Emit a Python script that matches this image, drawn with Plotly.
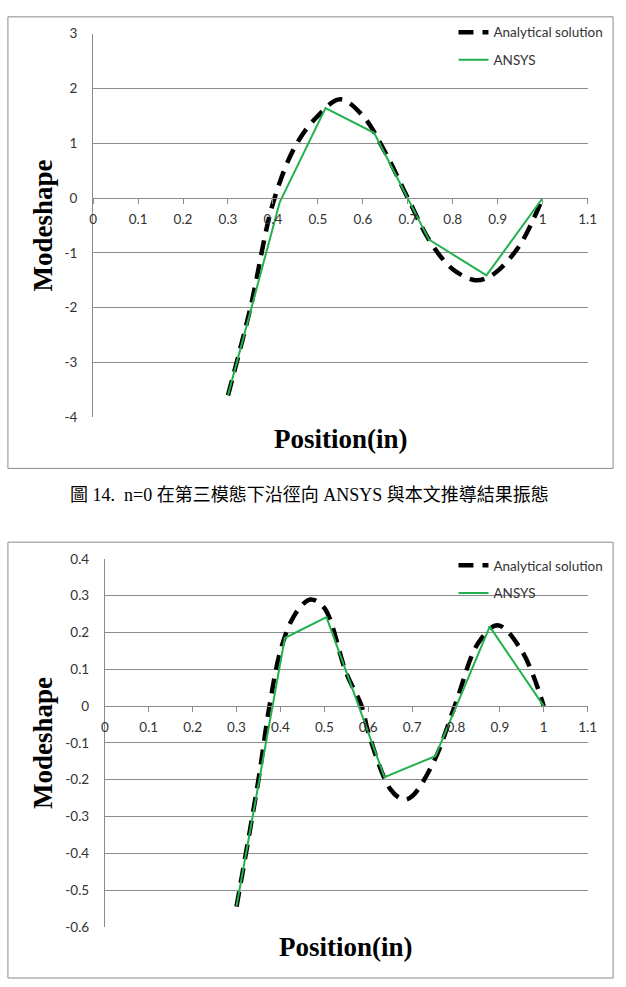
import plotly.graph_objects as go

W, H = 626, 987

# ---------------- data ----------------
x_ticks = [0, 0.1, 0.2, 0.3, 0.4, 0.5, 0.6, 0.7, 0.8, 0.9, 1.0, 1.1]
x_ticklabels = ["0", "0.1", "0.2", "0.3", "0.4", "0.5", "0.6", "0.7", "0.8", "0.9", "1", "1.1"]

c1_y_ticks = [-4, -3, -2, -1, 0, 1, 2, 3]
c1_y_ticklabels = ["-4", "-3", "-2", "-1", "0", "1", "2", "3"]
c2_y_ticks = [-0.6, -0.5, -0.4, -0.3, -0.2, -0.1, 0, 0.1, 0.2, 0.3, 0.4]
c2_y_ticklabels = ["-0.6", "-0.5", "-0.4", "-0.3", "-0.2", "-0.1", "0", "0.1", "0.2", "0.3", "0.4"]

# chart 1 (n=0, third mode)
c1_anal_x = [0.30, 0.35, 0.40, 0.45, 0.50, 0.55, 0.60, 0.65, 0.70, 0.75, 0.80, 0.85, 0.875, 0.90, 0.95, 1.00]
c1_anal_y = [-3.6, -2.0, -0.1, 0.95, 1.5, 1.8, 1.5, 0.83, 0.0, -0.8, -1.3, -1.5, -1.46, -1.33, -0.85, 0.0]
c1_ansys_x = [0.30, 0.415, 0.517, 0.625, 0.747, 0.875, 1.00]
c1_ansys_y = [-3.6, -0.08, 1.64, 1.19, -0.76, -1.41, 0.0]

# chart 2
c2_anal_x = [0.30, 0.35, 0.375, 0.40, 0.425, 0.45, 0.47, 0.50, 0.55, 0.585, 0.60, 0.65, 0.68, 0.70, 0.75, 0.80, 0.85, 0.895, 0.95, 1.00]
c2_anal_y = [-0.545, -0.2, 0.0, 0.15, 0.232, 0.276, 0.29, 0.267, 0.09, 0.0, -0.07, -0.225, -0.254, -0.245, -0.15, 0.01, 0.17, 0.22, 0.15, 0.0]
c2_ansys_x = [0.30, 0.41, 0.505, 0.637, 0.753, 0.877, 1.00]
c2_ansys_y = [-0.544, 0.185, 0.242, -0.193, -0.136, 0.216, 0.0]

series_names = ["Analytical solution", "ANSYS"]
caption = "圖 14.  n=0 在第三模態下沿徑向 ANSYS 與本文推導結果振態"
x_title = "Position(in)"
y_title = "Modeshape"

# ---------------- styles ----------------
GRID = "#8c8c8c"
GREEN = "#21b24f"
TICKFONT = dict(family="Lato, 'Open Sans', sans-serif", size=13.5, color="#333333")
TITLEFONT = dict(family="'Liberation Serif', 'Times New Roman', serif", size=27, color="black", weight="bold")


def px_x(p):
    return p / W


def px_y(p):
    return 1 - p / H


# plot area geometry (pixels)
c1_left, c1_right, c1_top, c1_bot = 91, 596, 26, 416
c2_left, c2_right, c2_top, c2_bot = 103, 596, 560, 934

c1_range = [c1_y_ticks[0], c1_y_ticks[-1]]
c2_range = [c2_y_ticks[0], c2_y_ticks[-1]]

c1_dom_y = [px_y(c1_bot), px_y(c1_top)]
c2_dom_y = [px_y(c2_bot), px_y(c2_top)]


def zero_pos(dom, rng):
    return dom[0] + (0 - rng[0]) / (rng[1] - rng[0]) * (dom[1] - dom[0])


fig = go.Figure()

fig.add_trace(go.Scatter(x=c1_anal_x, y=c1_anal_y, mode="lines", name=series_names[0],
                         line=dict(color="black", width=4.5, dash="15px,9px", shape="spline", smoothing=1.0),
                         xaxis="x", yaxis="y", legend="legend", legendgroup="a1"))
fig.add_trace(go.Scatter(x=c1_ansys_x, y=c1_ansys_y, mode="lines", name=series_names[1],
                         line=dict(color=GREEN, width=2),
                         xaxis="x", yaxis="y", legend="legend", legendgroup="b1"))
fig.add_trace(go.Scatter(x=c2_anal_x, y=c2_anal_y, mode="lines", name=series_names[0],
                         line=dict(color="black", width=4.5, dash="15px,9px", shape="spline", smoothing=1.0),
                         xaxis="x2", yaxis="y2", legend="legend2", legendgroup="a2"))
fig.add_trace(go.Scatter(x=c2_ansys_x, y=c2_ansys_y, mode="lines", name=series_names[1],
                         line=dict(color=GREEN, width=2),
                         xaxis="x2", yaxis="y2", legend="legend2", legendgroup="b2"))

xaxis_common = dict(range=[x_ticks[0], x_ticks[-1]], tickvals=x_ticks, ticktext=x_ticklabels,
                    showgrid=False, zeroline=False, showline=True, linecolor=GRID, linewidth=1,
                    ticks="outside", ticklen=5, tickcolor=GRID, tickfont=TICKFONT,
                    ticklabelstandoff=4, anchor="free", fixedrange=True)
yaxis_common = dict(showgrid=True, gridcolor=GRID, gridwidth=1, zeroline=False,
                    showline=True, linecolor=GRID, linewidth=1, ticks="", tickfont=TICKFONT,
                    ticklabelstandoff=12, fixedrange=True)

fig.update_layout(
    width=W, height=H, margin=dict(l=0, r=0, t=0, b=0),
    paper_bgcolor="white", plot_bgcolor="white",
    showlegend=True,
    xaxis=dict(xaxis_common, domain=[px_x(c1_left), px_x(c1_right)],
               position=zero_pos(c1_dom_y, c1_range)),
    yaxis=dict(yaxis_common, domain=c1_dom_y, range=c1_range,
               tickvals=c1_y_ticks, ticktext=c1_y_ticklabels, anchor="x"),
    xaxis2=dict(xaxis_common, domain=[px_x(c2_left), px_x(c2_right)],
                position=zero_pos(c2_dom_y, c2_range)),
    yaxis2=dict(yaxis_common, domain=c2_dom_y, range=c2_range,
                tickvals=c2_y_ticks, ticktext=c2_y_ticklabels, anchor="x2"),
    legend=dict(x=px_x(459), y=px_y(9), xanchor="left", yanchor="top",
                bgcolor="rgba(0,0,0,0)", font=TICKFONT, traceorder="grouped", tracegroupgap=7),
    legend2=dict(x=px_x(459), y=px_y(551), xanchor="left", yanchor="top",
                 bgcolor="rgba(0,0,0,0)", font=TICKFONT, traceorder="grouped", tracegroupgap=7),
)

# chart borders
for top, bot in [(9, 468), (543, 986)]:
    fig.add_shape(type="rect", xref="paper", yref="paper",
                  x0=px_x(4), x1=px_x(622), y0=px_y(bot), y1=px_y(top),
                  line=dict(color=GRID, width=1), fillcolor="rgba(0,0,0,0)", layer="below")

# axis titles
for cx, cy in [(40, 221), (40, 747)]:
    fig.add_annotation(text=y_title, x=px_x(cx), y=px_y(cy), xref="paper", yref="paper",
                       textangle=-90, showarrow=False, font=TITLEFONT,
                       xanchor="center", yanchor="middle")
for cx, cy in [(344, 438), (349, 954)]:
    fig.add_annotation(text=x_title, x=px_x(cx), y=px_y(cy), xref="paper", yref="paper",
                       showarrow=False, font=TITLEFONT, xanchor="center", yanchor="middle")

# caption
fig.add_annotation(text=caption, x=px_x(312), y=px_y(495), xref="paper", yref="paper",
                   showarrow=False, xanchor="center", yanchor="middle",
                   font=dict(family="'Liberation Serif', 'Noto Sans CJK TC', serif", size=18, color="black"))

fig.write_html("out.html")
